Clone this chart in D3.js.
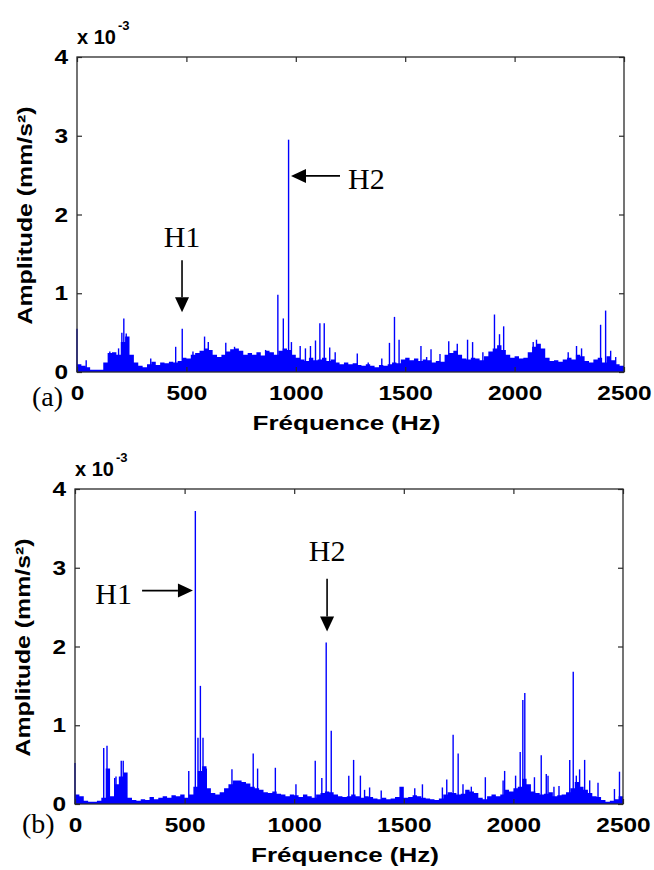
<!DOCTYPE html>
<html>
<head>
<meta charset="utf-8">
<script src="https://cdn.jsdelivr.net/npm/d3@7"></script>
<style>
  body { margin: 0; background: #fff; }
  .sans { font-family: "Liberation Sans", Arial, Helvetica, sans-serif; font-weight: bold; }
  .serif { font-family: "Liberation Serif", "Times New Roman", serif; }
</style>
</head>
<body>
<svg id="chart" width="654" height="870"></svg>
<script>
// spectra, amplitudes in 1e-3 mm/s²
// background level, one value per 20 Hz bin from 0 to 2500 Hz
const binStep = 20;

const bgA = [
  0.10,0.08,0.06,0.03,0.03,0.03,0.12,0.24,0.25,0.22,
  0.38,0.45,0.22,0.12,0.08,0.06,0.10,0.13,0.09,0.12,
  0.11,0.13,0.12,0.14,0.18,0.17,0.22,0.24,0.27,0.30,
  0.28,0.22,0.19,0.22,0.26,0.29,0.30,0.27,0.22,0.24,
  0.22,0.25,0.21,0.27,0.25,0.22,0.27,0.30,0.28,0.22,
  0.18,0.16,0.14,0.18,0.15,0.16,0.18,0.14,0.16,0.12,
  0.10,0.12,0.10,0.11,0.09,0.08,0.10,0.08,0.06,0.09,
  0.08,0.10,0.12,0.11,0.16,0.18,0.15,0.17,0.14,0.16,
  0.15,0.12,0.14,0.13,0.22,0.24,0.27,0.22,0.17,0.16,
  0.18,0.17,0.15,0.20,0.26,0.30,0.34,0.28,0.22,0.18,
  0.20,0.17,0.18,0.25,0.32,0.36,0.30,0.18,0.14,0.15,
  0.13,0.16,0.18,0.16,0.22,0.20,0.14,0.12,0.16,0.18,
  0.12,0.20,0.15,0.10,0.08,0.06
];

// narrow lines [frequency Hz, amplitude]
const spikesA = [
  [0,0.55],[42,0.15],[150,0.26],[190,0.30],[205,0.50],[214,0.68],[225,0.49],[337,0.17],
  [451,0.32],[481,0.55],[530,0.26],[583,0.45],[600,0.38],[680,0.37],[720,0.32],[862,0.28],
  [918,0.98],[943,0.68],[967,2.95],[980,0.38],[1020,0.33],[1044,0.30],[1067,0.33],
  [1090,0.40],[1110,0.62],[1130,0.62],[1155,0.31],[1180,0.25],[1281,0.235],[1331,0.12],
  [1393,0.17],[1428,0.37],[1451,0.70],[1472,0.41],[1572,0.33],[1598,0.19],[1618,0.29],
  [1659,0.23],[1699,0.39],[1738,0.36],[1785,0.41],[1808,0.38],[1855,0.25],[1908,0.73],
  [1931,0.48],[1950,0.58],[2085,0.38],[2100,0.41],[2245,0.25],[2283,0.33],[2306,0.30],
  [2393,0.60],[2416,0.78],[2439,0.27],[2462,0.19]
];

const bgB = [
  0.12,0.10,0.04,0.03,0.03,0.04,0.08,0.45,0.10,0.25,
  0.35,0.40,0.08,0.05,0.04,0.06,0.05,0.09,0.06,0.08,
  0.10,0.08,0.11,0.10,0.12,0.08,0.12,0.22,0.42,0.48,
  0.20,0.14,0.12,0.15,0.20,0.25,0.30,0.30,0.28,0.26,
  0.22,0.20,0.18,0.15,0.14,0.16,0.13,0.12,0.10,0.12,
  0.11,0.09,0.12,0.10,0.08,0.12,0.14,0.16,0.15,0.12,
  0.10,0.09,0.10,0.12,0.10,0.08,0.10,0.09,0.07,0.06,
  0.08,0.06,0.07,0.09,0.22,0.08,0.09,0.11,0.10,0.08,
  0.07,0.06,0.05,0.07,0.12,0.15,0.14,0.12,0.13,0.18,
  0.16,0.14,0.08,0.06,0.10,0.12,0.10,0.12,0.18,0.16,
  0.20,0.22,0.32,0.25,0.16,0.14,0.12,0.13,0.15,0.10,
  0.11,0.12,0.15,0.20,0.28,0.22,0.18,0.14,0.10,0.09,
  0.05,0.03,0.04,0.06,0.10,0.08
];

const spikesB = [
  [0,0.52],[131,0.71],[146,0.74],[181,0.33],[187,0.35],[211,0.55],[220,0.55],
  [519,0.42],[549,3.72],[561,0.84],[572,1.50],[584,0.84],[599,0.45],[716,0.44],
  [813,0.64],[833,0.45],[914,0.46],[1008,0.25],[1096,0.55],[1126,0.33],[1146,2.05],
  [1169,0.93],[1249,0.36],[1271,0.56],[1302,0.36],[1321,0.18],[1344,0.21],[1397,0.17],
  [1550,0.20],[1585,0.25],[1676,0.21],[1696,0.31],[1725,0.88],[1748,0.64],[1770,0.25],
  [1808,0.22],[1872,0.34],[1953,0.30],[1960,0.42],[2010,0.36],[2031,0.66],[2043,1.32],
  [2052,1.41],[2096,0.34],[2127,0.62],[2150,0.38],[2158,0.36],[2185,0.22],[2208,0.23],
  [2257,0.56],[2273,1.68],[2287,0.36],[2302,0.44],[2325,0.56],[2348,0.30],[2386,0.27],
  [2461,0.19],[2484,0.41]
];

const xTicks = [0, 500, 1000, 1500, 2000, 2500];
const yTicks = [0, 1, 2, 3, 4];

// arrows: from (f0,a0) to tip (f1,a1); label at (lf,la)
const notesA = [
  {label: "H1", f0: 480, a0: 1.42, f1: 480, a1: 0.76, lf: 480, la: 1.59, anchor: "middle"},
  {label: "H2", f0: 1202, a0: 2.49, f1: 978, a1: 2.49, lf: 1239, la: 2.33, anchor: "start"}
];
const notesB = [
  {label: "H1", f0: 306, a0: 2.71, f1: 538, a1: 2.71, lf: 260, la: 2.54, anchor: "end"},
  {label: "H2", f0: 1150, a0: 2.86, f1: 1150, a1: 2.19, lf: 1150, la: 3.09, anchor: "middle"}
];

const svg = d3.select("#chart");
svg.append("rect").attr("width", 654).attr("height", 870).attr("fill", "#fff");

const blue = "#0000ff";
const axisColor = "#2a2a2a";
const fmt = d3.format("d");

function drawPanel(p) {
  const g = svg.append("g");
  const x = d3.scaleLinear().domain([0, 2500]).range([p.left, p.right]);
  const y = d3.scaleLinear().domain([0, 4]).range([p.bottom, p.top]);

  // background spectrum as steps
  const area = d3.area()
      .curve(d3.curveStepAfter)
      .x((d, i) => x(i * binStep))
      .y0(y(0))
      .y1(d => y(d));
  g.append("path")
      .datum(p.bg)
      .attr("d", area)
      .attr("fill", blue);

  // narrow peaks
  g.selectAll("line.spike")
    .data(p.spikes)
    .join("line")
      .attr("class", "spike")
      .attr("x1", d => x(d[0]))
      .attr("x2", d => x(d[0]))
      .attr("y1", y(0))
      .attr("y2", d => y(d[1]))
      .attr("stroke", blue)
      .attr("stroke-width", 1.4);

  // axes, ticks inside (matlab style)
  const stretch = 13.6; // px per digit, labels look wide in the original
  const xb = g.append("g")
      .attr("transform", `translate(0,${p.bottom})`)
      .call(d3.axisBottom(x).tickValues(xTicks).tickFormat(fmt)
            .tickSizeInner(-5).tickSizeOuter(0).tickPadding(13));
  xb.selectAll("text")
      .attr("class", "sans")
      .attr("font-size", 21)
      .attr("fill", "#000")
      .attr("textLength", d => fmt(d).length * stretch)
      .attr("lengthAdjust", "spacingAndGlyphs");

  const yl = g.append("g")
      .attr("transform", `translate(${p.left},0)`)
      .call(d3.axisLeft(y).tickValues(yTicks).tickFormat(fmt)
            .tickSizeInner(-5).tickSizeOuter(0).tickPadding(9));
  yl.selectAll("text")
      .attr("class", "sans")
      .attr("font-size", 21)
      .attr("fill", "#000")
      .attr("textLength", stretch)
      .attr("lengthAdjust", "spacingAndGlyphs");

  g.append("g")
      .attr("transform", `translate(0,${p.top})`)
      .call(d3.axisTop(x).tickValues(xTicks).tickSizeInner(-5).tickSizeOuter(0).tickFormat(""));
  g.append("g")
      .attr("transform", `translate(${p.right},0)`)
      .call(d3.axisRight(y).tickValues(yTicks).tickSizeInner(-5).tickSizeOuter(0).tickFormat(""));

  g.selectAll(".domain").remove();
  g.selectAll(".tick line").attr("stroke", axisColor).attr("stroke-width", 1.2);
  g.append("rect")
      .attr("x", p.left).attr("y", p.top)
      .attr("width", p.right - p.left).attr("height", p.bottom - p.top)
      .attr("fill", "none")
      .attr("stroke", axisColor)
      .attr("stroke-width", 1.3);

  // exponent label
  const ex = g.append("text")
      .attr("class", "sans")
      .attr("x", p.left)
      .attr("y", p.top - 13)
      .attr("font-size", 20);
  ex.append("tspan").text("x 10");
  ex.append("tspan").attr("font-size", 13).attr("dy", -14).attr("dx", 2).text("-3");

  // axis titles
  g.append("text")
      .attr("class", "sans")
      .attr("x", (p.left + p.right) / 2 - 4)
      .attr("y", p.bottom + 58)
      .attr("text-anchor", "middle")
      .attr("font-size", 20)
      .attr("textLength", 188)
      .attr("lengthAdjust", "spacingAndGlyphs")
      .text("Fréquence (Hz)");

  g.append("text")
      .attr("class", "sans")
      .attr("transform", `translate(${p.left - 45},${(p.top + p.bottom) / 2 + 1}) rotate(-90)`)
      .attr("text-anchor", "middle")
      .attr("font-size", 20)
      .attr("textLength", 218)
      .attr("lengthAdjust", "spacingAndGlyphs")
      .text("Amplitude (mm/s²)");

  // panel letter
  g.append("text")
      .attr("class", "serif")
      .attr("x", p.tagX)
      .attr("y", p.tagY)
      .attr("font-size", 28)
      .text(p.tag);

  // annotation arrows
  p.notes.forEach(n => {
    const x0 = x(n.f0), y0 = y(n.a0), x1 = x(n.f1), y1 = y(n.a1);
    const ang = Math.atan2(y1 - y0, x1 - x0);
    const len = 15, half = 7;
    const bx = x1 - len * Math.cos(ang), by = y1 - len * Math.sin(ang);
    g.append("line")
        .attr("x1", x0).attr("y1", y0).attr("x2", bx).attr("y2", by)
        .attr("stroke", "#000").attr("stroke-width", 1.6);
    g.append("path")
        .attr("d", `M${x1},${y1}L${bx - half * Math.sin(ang)},${by + half * Math.cos(ang)}L${bx + half * Math.sin(ang)},${by - half * Math.cos(ang)}Z`)
        .attr("fill", "#000");
    g.append("text")
        .attr("class", "serif")
        .attr("x", x(n.lf))
        .attr("y", y(n.la))
        .attr("text-anchor", n.anchor)
        .attr("font-size", 30)
        .text(n.label);
  });
}

drawPanel({left: 77, right: 624, top: 57, bottom: 372, bg: bgA, spikes: spikesA,
           notes: notesA, tag: "(a)", tagX: 32, tagY: 406});
drawPanel({left: 75, right: 623, top: 489, bottom: 804, bg: bgB, spikes: spikesB,
           notes: notesB, tag: "(b)", tagX: 22, tagY: 833});
</script>
</body>
</html>
